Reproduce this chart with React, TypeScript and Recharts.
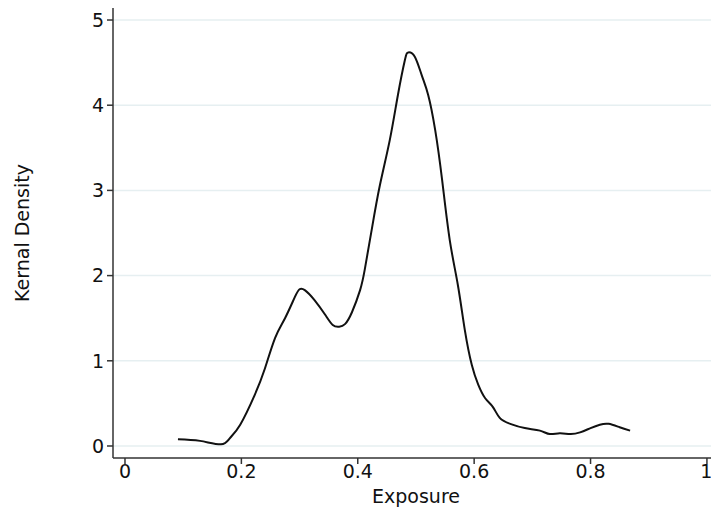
import { LineChart, Line, XAxis, YAxis, CartesianGrid } from "recharts";

const exposure = [
  0.091, 0.129, 0.165, 0.18, 0.198, 0.223, 0.24, 0.258, 0.275, 0.292, 0.3, 0.309,
  0.326, 0.344, 0.357, 0.368, 0.378, 0.39, 0.404, 0.412, 0.424, 0.438, 0.455,
  0.469, 0.481, 0.487, 0.498, 0.51, 0.521, 0.533, 0.545, 0.558, 0.572, 0.584,
  0.596, 0.607, 0.619, 0.632, 0.644, 0.662, 0.687, 0.713, 0.73, 0.747, 0.765,
  0.782, 0.8, 0.816, 0.831, 0.85, 0.868,
];
const density = [
  0.08, 0.06, 0.02, 0.09, 0.25, 0.6, 0.9, 1.27, 1.5, 1.75, 1.84, 1.83,
  1.71, 1.54, 1.42, 1.4, 1.43, 1.57, 1.83, 2.07, 2.54, 3.06, 3.59,
  4.12, 4.53, 4.62, 4.57, 4.35, 4.12, 3.71, 3.12, 2.42, 1.89, 1.36,
  0.95, 0.72, 0.56, 0.46, 0.33, 0.26, 0.21, 0.18, 0.14, 0.15, 0.14,
  0.16, 0.21, 0.25, 0.26, 0.22, 0.18,
];
const xTicks = [0, 0.2, 0.4, 0.6, 0.8, 1];
const yTicks = [0, 1, 2, 3, 4, 5];

const data = exposure.map((x, i) => ({ x, y: density[i] }));

const FONT = "'DejaVu Sans', sans-serif";
const AXIS = "#333";
const FS = 19;

export default function App() {
  return (
    <div style={{ position: "absolute", left: 0, top: 0, background: "#fff" }}>
      <LineChart
        width={711}
        height={508}
        data={data}
        margin={{ top: 8, right: 0, bottom: 0, left: 0 }}
      >
        <CartesianGrid
          vertical={false}
          horizontalValues={yTicks}
          stroke="#e6eff1"
          strokeWidth={1.5}
        />
        <XAxis
          dataKey="x"
          type="number"
          domain={[-0.0206, 1.007]}
          ticks={xTicks}
          allowDataOverflow
          height={50}
          tickFormatter={(v: number) => String(Number(v.toFixed(1)))}
          tick={{ fill: "#111", fontSize: FS, fontFamily: FONT }}
          tickSize={6}
          tickMargin={1}
          stroke={AXIS}
          strokeWidth={1.5}
          label={({ viewBox }: any) => (
            <text
              x={viewBox.x + viewBox.width / 2 + 4}
              y={496}
              textAnchor="middle"
              dominantBaseline="central"
              fontSize={FS}
              fontFamily={FONT}
              fill="#111"
            >
              Exposure
            </text>
          )}
        />
        <YAxis
          type="number"
          domain={[-0.141, 5.141]}
          ticks={yTicks}
          allowDataOverflow
          width={113}
          tick={{ fill: "#111", fontSize: FS, fontFamily: FONT }}
          tickSize={6}
          tickMargin={3}
          stroke={AXIS}
          strokeWidth={1.5}
          label={({ viewBox }: any) => {
            const cy = viewBox.y + viewBox.height / 2;
            return (
              <text
                x={22}
                y={cy}
                transform={`rotate(-90, 22, ${cy})`}
                textAnchor="middle"
                dominantBaseline="central"
                fontSize={FS}
                fontFamily={FONT}
                fill="#111"
              >
                Kernal Density
              </text>
            );
          }}
        />
        <Line
          type="natural"
          dataKey="y"
          stroke="#111"
          strokeWidth={2}
          dot={false}
          isAnimationActive={false}
        />
      </LineChart>
    </div>
  );
}
